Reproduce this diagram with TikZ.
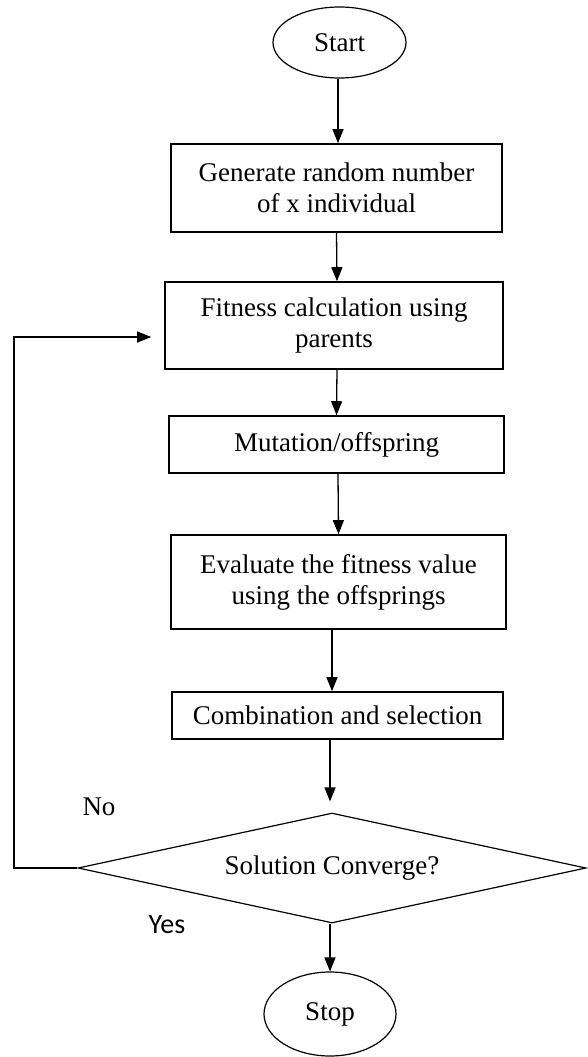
\documentclass[tikz,border=0pt]{standalone}
\usepackage{fontspec}
\setmainfont{Liberation Serif}
\newfontfamily\yesfont{Carlito}
\usetikzlibrary{shapes.geometric,arrows.meta}
\tikzset{
  every node/.style={font=\fontsize{27}{31}\selectfont},
  boxnode/.style={draw, line width=1.6pt, rectangle, inner sep=0pt, align=center},
  ovalnode/.style={draw, line width=1.2pt, ellipse, inner sep=0pt},
  decnode/.style={draw, line width=1.2pt, diamond, inner sep=0pt, shape aspect=4.6, minimum width=508pt, minimum height=110pt},
  arr/.style={line width=1.3pt, -{Triangle[length=14pt,width=11pt]}},
  lbl/.style={inner sep=0pt}
}
\begin{document}
\begin{tikzpicture}[x=1pt,y=-1pt]
\useasboundingbox (0,0) rectangle (587,1057);
\node[ovalnode, minimum width=133pt, minimum height=71pt] (start) at (339.5,42.5) {Start};
\node[boxnode, minimum width=331pt, minimum height=88pt] (b1) at (336.5,188) {Generate random number\\of x individual};
\node[boxnode, minimum width=338pt, minimum height=87pt] (b2) at (334,325.5) {Fitness calculation using\\parents};
\node[boxnode, minimum width=335pt, minimum height=57pt] (b3) at (336.5,444.5) {Mutation/offspring};
\node[boxnode, minimum width=335pt, minimum height=94pt] (b4) at (338.5,582) {Evaluate the fitness value\\using the offsprings};
\node[boxnode, minimum width=331pt, minimum height=47pt] (b5) at (337.5,715.5) {Combination and selection};
\node[decnode] (d) at (332,868) {Solution Converge?};
\node[ovalnode, minimum width=132pt, minimum height=84pt] (stop) at (330,1014) {Stop};
\coordinate (loop) at (14,868);
\node[lbl] (no) at (99,807) {No};
\node[lbl, font=\yesfont\fontsize{28}{30}\selectfont] (yes) at (167,925) {Yes};

\draw[arr] ([xshift=-1.5pt]start.south) -- ([xshift=1.5pt]b1.north);
\draw[arr] (b1.south) -- ([xshift=3pt]b2.north);
\draw[arr] ([xshift=3pt]b2.south) -- (b3.north);
\draw[arr] ([xshift=1.5pt]b3.south) -- (b4.north);
\draw[arr] ([xshift=-6.5pt]b4.south) -- ([xshift=-5.5pt]b5.north);
\draw[arr, shorten >=11pt] ([xshift=-7.5pt]b5.south) -- ([xshift=-2pt]d.north);
\draw[arr] ([xshift=-2pt]d.south) -- (stop.north);
\draw[arr] (d.west) -- (loop) |- ([xshift=-13pt,yshift=-11.5pt]b2.west);
\end{tikzpicture}
\end{document}
